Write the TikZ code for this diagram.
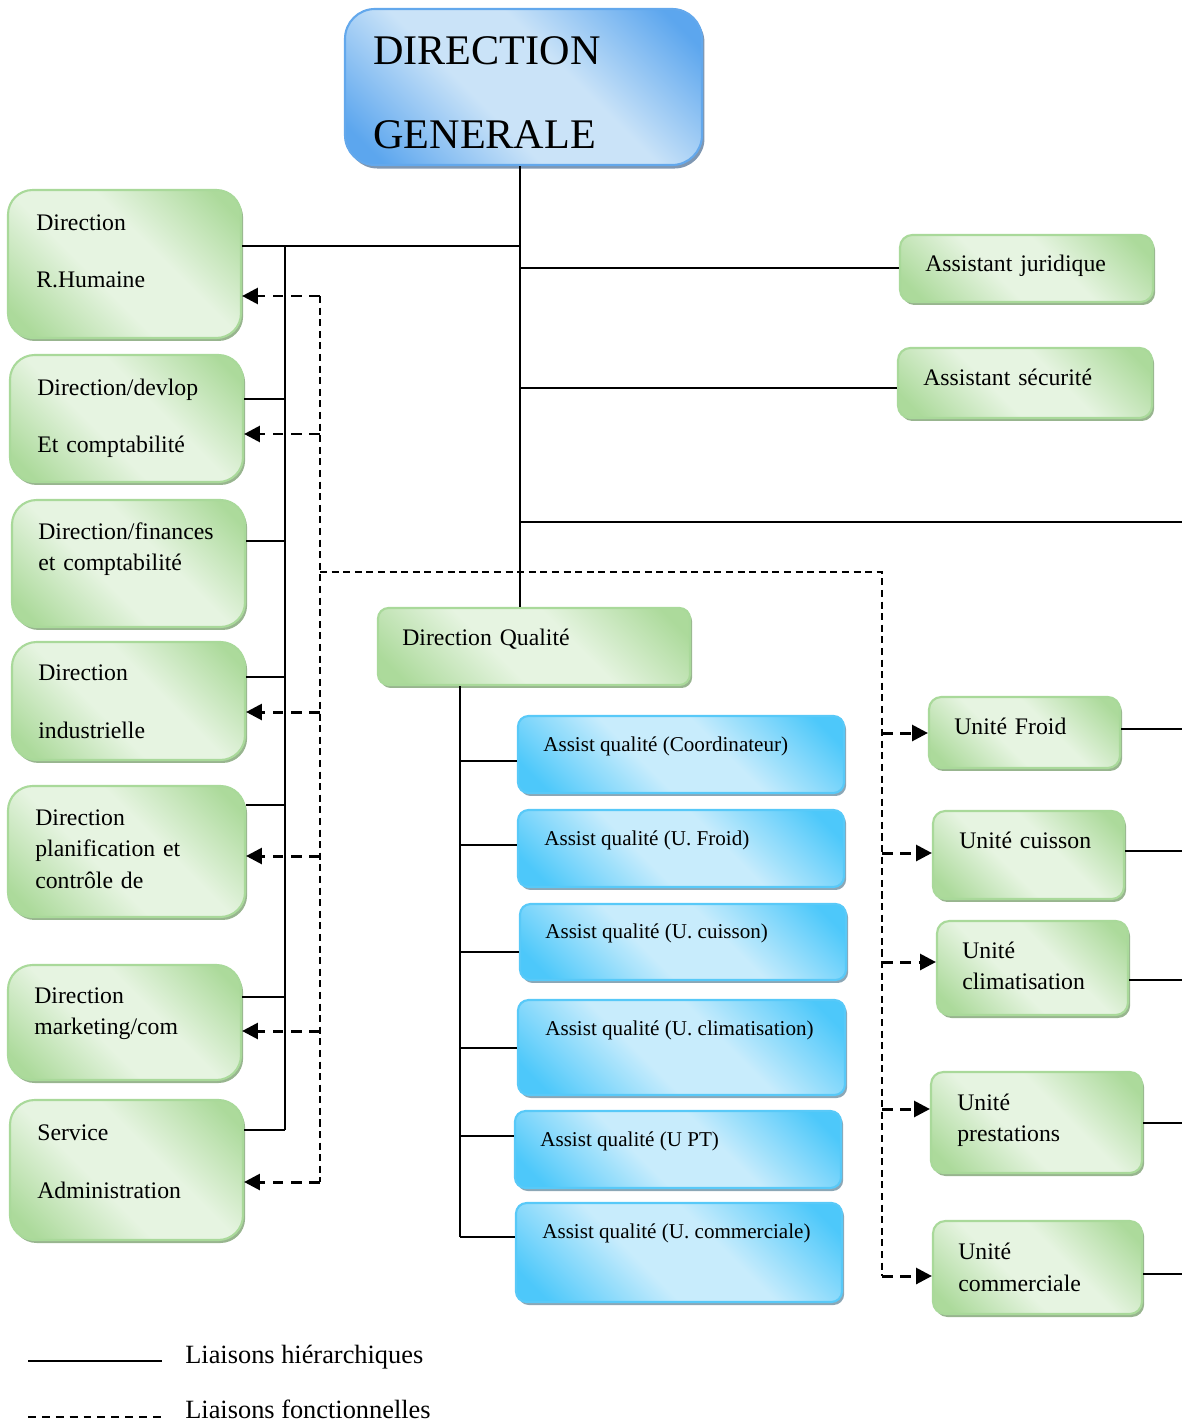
\documentclass[tikz,border=0pt]{standalone}
\usepackage{fontspec}
\setmainfont{Liberation Serif}
\usetikzlibrary{arrows.meta,shadows,fit}

\definecolor{gdark}{HTML}{ACDA9B}
\definecolor{glight}{HTML}{E6F4E1}
\definecolor{gline}{HTML}{A9D99A}
\definecolor{gshad}{HTML}{98B58F}
\definecolor{bdark}{HTML}{4DC8FA}
\definecolor{blight}{HTML}{C8ECFC}
\definecolor{bline}{HTML}{58C9F8}
\definecolor{bshad}{HTML}{8CA7B6}
\definecolor{ddark}{HTML}{5CA6EE}
\definecolor{dlight}{HTML}{CAE3F8}
\definecolor{dline}{HTML}{63A8EC}
\definecolor{dshad}{HTML}{7F97B2}

\pgfdeclareverticalshading{greenfill}{100bp}{color(0bp)=(gdark); color(20bp)=(gdark); color(42bp)=(glight); color(58bp)=(glight); color(80bp)=(gdark); color(100bp)=(gdark)}
\pgfdeclareverticalshading{bluefill}{100bp}{color(0bp)=(bdark); color(20bp)=(bdark); color(42bp)=(blight); color(58bp)=(blight); color(80bp)=(bdark); color(100bp)=(bdark)}
\pgfdeclareverticalshading{dgfill}{100bp}{color(0bp)=(ddark); color(20bp)=(ddark); color(42bp)=(dlight); color(58bp)=(dlight); color(80bp)=(ddark); color(100bp)=(ddark)}

\tikzset{
  box/.style={inner sep=0pt, shade, shading angle=-45, line width=1.2pt},
  gbox/.style={box, draw=gline, shading=greenfill, rounded corners=#1,
    drop shadow={shadow xshift=1.2pt, shadow yshift=-1.7pt, fill=gshad, opacity=1}},
  gbox/.default=7pt,
  bbox/.style={box, draw=bline, shading=bluefill, rounded corners=6pt,
    drop shadow={shadow xshift=1.2pt, shadow yshift=-1.7pt, fill=bshad, opacity=1}},
  dbox/.style={box, draw=dline, shading=dgfill, rounded corners=17pt,
    drop shadow={shadow xshift=1.4pt, shadow yshift=-2pt, fill=dshad, opacity=1}},
  gtext/.style={anchor=base west, inner sep=0pt, align=left, text width=7cm,
    font=\fontsize{13.5}{18.2}\selectfont},
  btext/.style={anchor=base west, inner sep=0pt, font=\fontsize{12}{14}\selectfont},
  dtext/.style={anchor=base west, inner sep=0pt, align=left, text width=9cm,
    font=\fontsize{24}{47.8}\selectfont},
  ltext/.style={anchor=base west, inner sep=0pt, font=\fontsize{15}{18}\selectfont},
  hier/.style={line width=1pt},
  func/.style={line width=1pt, dash pattern=on 4pt off 2.6pt},
  farrow/.style={line width=1.7pt, dash pattern=on 6pt off 4.5pt,
    -{Triangle[length=9pt,width=9pt]}},
}

\begin{document}
\begin{tikzpicture}[x=0.2mm,y=-0.2mm]
\useasboundingbox (0,0) rectangle (1182,1425);

% direction generale
\node[dbox, fit={(345,9) (702,165)}] (dg) {};
\node[dtext] (dg-t) at (373,65) {DIRECTION\\GENERALE};

% colonne gauche
\node[gbox=14pt, fit={(8,190) (241,338)}] (rh) {};
\node[gtext] (rh-t) at (36,230) {Direction\\[14.8pt]R.Humaine};
\node[gbox=14pt, fit={(10,355) (243,482)}] (dv) {};
\node[gtext] (dv-t) at (37,395) {Direction/devlop\\[14.8pt]Et comptabilité};
\node[gbox=14pt, fit={(12,500) (245,627)}] (df) {};
\node[gtext] (df-t) at (38,539) {Direction/finances\\et comptabilité};
\node[gbox=14pt, fit={(12,642) (245,760)}] (di) {};
\node[gtext] (di-t) at (38,680) {Direction\\[14.8pt]industrielle};
\node[gbox=14pt, fit={(8,786) (245,917)}] (dp) {};
\node[gtext] (dp-t) at (35,825) {Direction\\planification et\\contrôle de};
\node[gbox=14pt, fit={(8,965) (241,1080)}] (dm) {};
\node[gtext] (dm-t) at (34,1003) {Direction\\marketing/com};
\node[gbox=14pt, fit={(10,1100) (243,1240)}] (sa) {};
\node[gtext] (sa-t) at (37,1140) {Service\\[14.8pt]Administration};

% assistants
\node[gbox, fit={(900,235) (1153,302)}] (aj) {};
\node[gtext] (aj-t) at (925,271) {Assistant juridique};
\node[gbox, fit={(898,348) (1152,418)}] (as) {};
\node[gtext] (as-t) at (923,385) {Assistant sécurité};

% direction qualite
\node[gbox=6pt, fit={(378,608) (690,685)}] (dq) {};
\node[gtext] (dq-t) at (402,645) {Direction Qualité};

\node[bbox, fit={(518,716) (844,793)}] (a1) {};
\node[btext] (a1-t) at (543,751) {Assist qualité (Coordinateur)};
\node[bbox, fit={(518,810) (844,887)}] (a2) {};
\node[btext] (a2-t) at (544,845) {Assist qualité (U. Froid)};
\node[bbox, fit={(520,904) (846,980)}] (a3) {};
\node[btext] (a3-t) at (545,938) {Assist qualité (U. cuisson)};
\node[bbox, fit={(518,1000) (845,1095)}] (a4) {};
\node[btext] (a4-t) at (545,1035) {Assist qualité (U. climatisation)};
\node[bbox, fit={(515,1111) (841,1188)}] (a5) {};
\node[btext] (a5-t) at (540,1146) {Assist qualité (U PT)};
\node[bbox, fit={(516,1203) (842,1302)}] (a6) {};
\node[btext] (a6-t) at (542,1238) {Assist qualité (U. commerciale)};

% unites
\node[gbox, fit={(929,697) (1120,768)}] (uf) {};
\node[gtext] (uf-t) at (954,734) {Unité Froid};
\node[gbox, fit={(933,811) (1124,899)}] (uc) {};
\node[gtext] (uc-t) at (959,848) {Unité cuisson};
\node[gbox, fit={(937,921) (1128,1015)}] (ucl) {};
\node[gtext] (ucl-t) at (962,958) {Unité\\climatisation};
\node[gbox, fit={(931,1072) (1142,1173)}] (up) {};
\node[gtext] (up-t) at (957,1110) {Unité\\prestations};
\node[gbox, fit={(933,1221) (1142,1314)}] (ucm) {};
\node[gtext] (ucm-t) at (958,1259) {Unité\\commerciale};

\coordinate (tk) at (520,0);
\coordinate (lb) at (285,0);
\coordinate (lv) at (320,0);
\coordinate (rv) at (882,0);
\coordinate (qb) at (460,0);
\coordinate (rx) at (1182,0);

% liaisons hierarchiques
\draw[hier] (dg.south -| tk) -- (dq.north -| tk);
\draw[hier] (rh.east |- 0,246) -- (tk |- 0,246);
\draw[hier] (tk |- 0,268) -- (aj.west |- 0,268);
\draw[hier] (tk |- 0,388) -- (as.west |- 0,388);
\draw[hier] (tk |- 0,522) -- (rx |- 0,522);
\draw[hier] (lb |- 0,246) -- (lb |- 0,1130);
\draw[hier] (dv.east |- 0,399) -- (lb |- 0,399);
\draw[hier] (df.east |- 0,541) -- (lb |- 0,541);
\draw[hier] (di.east |- 0,677) -- (lb |- 0,677);
\draw[hier] (dp.east |- 0,805) -- (lb |- 0,805);
\draw[hier] (dm.east |- 0,997) -- (lb |- 0,997);
\draw[hier] (sa.east |- 0,1130) -- (lb |- 0,1130);
\draw[hier] (dq.south -| qb) -- (qb |- 0,1237);
\draw[hier] (qb |- 0,761) -- (a1.west |- 0,761);
\draw[hier] (qb |- 0,845) -- (a2.west |- 0,845);
\draw[hier] (qb |- 0,952) -- (a3.west |- 0,952);
\draw[hier] (qb |- 0,1048) -- (a4.west |- 0,1048);
\draw[hier] (qb |- 0,1136) -- (a5.west |- 0,1136);
\draw[hier] (qb |- 0,1237) -- (a6.west |- 0,1237);
\draw[hier] (uf.east |- 0,729) -- (rx |- 0,729);
\draw[hier] (uc.east |- 0,851) -- (rx |- 0,851);
\draw[hier] (ucl.east |- 0,980) -- (rx |- 0,980);
\draw[hier] (up.east |- 0,1123) -- (rx |- 0,1123);
\draw[hier] (ucm.east |- 0,1274) -- (rx |- 0,1274);

% liaisons fonctionnelles
\draw[func] (lv |- 0,296) -- (lv |- 0,1182);
\draw[func] (lv |- 0,572) -- (rv |- 0,572) -- (rv |- 0,1276);
\draw[farrow] (lv |- 0,296) -- (rh.east |- 0,296);
\draw[farrow] (lv |- 0,434) -- (dv.east |- 0,434);
\draw[farrow] (lv |- 0,712) -- (di.east |- 0,712);
\draw[farrow] (lv |- 0,856) -- (dp.east |- 0,856);
\draw[farrow] (lv |- 0,1031) -- (dm.east |- 0,1031);
\draw[farrow] (lv |- 0,1182) -- (sa.east |- 0,1182);
\draw[farrow] (rv |- 0,733) -- (uf.west |- 0,733);
\draw[farrow] (rv |- 0,853) -- (uc.west |- 0,853);
\draw[farrow] (rv |- 0,962) -- (ucl.west |- 0,962);
\draw[farrow] (rv |- 0,1109) -- (up.west |- 0,1109);
\draw[farrow] (rv |- 0,1276) -- (ucm.west |- 0,1276);

% legende
\coordinate (h1) at (28,1361);
\coordinate (h2) at (162,1361);
\draw[hier, line width=1.3pt] (h1) -- (h2);
\node[ltext] (lh) at (185,1363) {Liaisons hiérarchiques};
\coordinate (f1) at (28,1417);
\coordinate (f2) at (162,1417);
\draw[line width=1pt, dash pattern=on 4.5pt off 3.4pt] (f1) -- (f2);
\node[ltext] (lf) at (185,1418) {Liaisons fonctionnelles};
\end{tikzpicture}
\end{document}
